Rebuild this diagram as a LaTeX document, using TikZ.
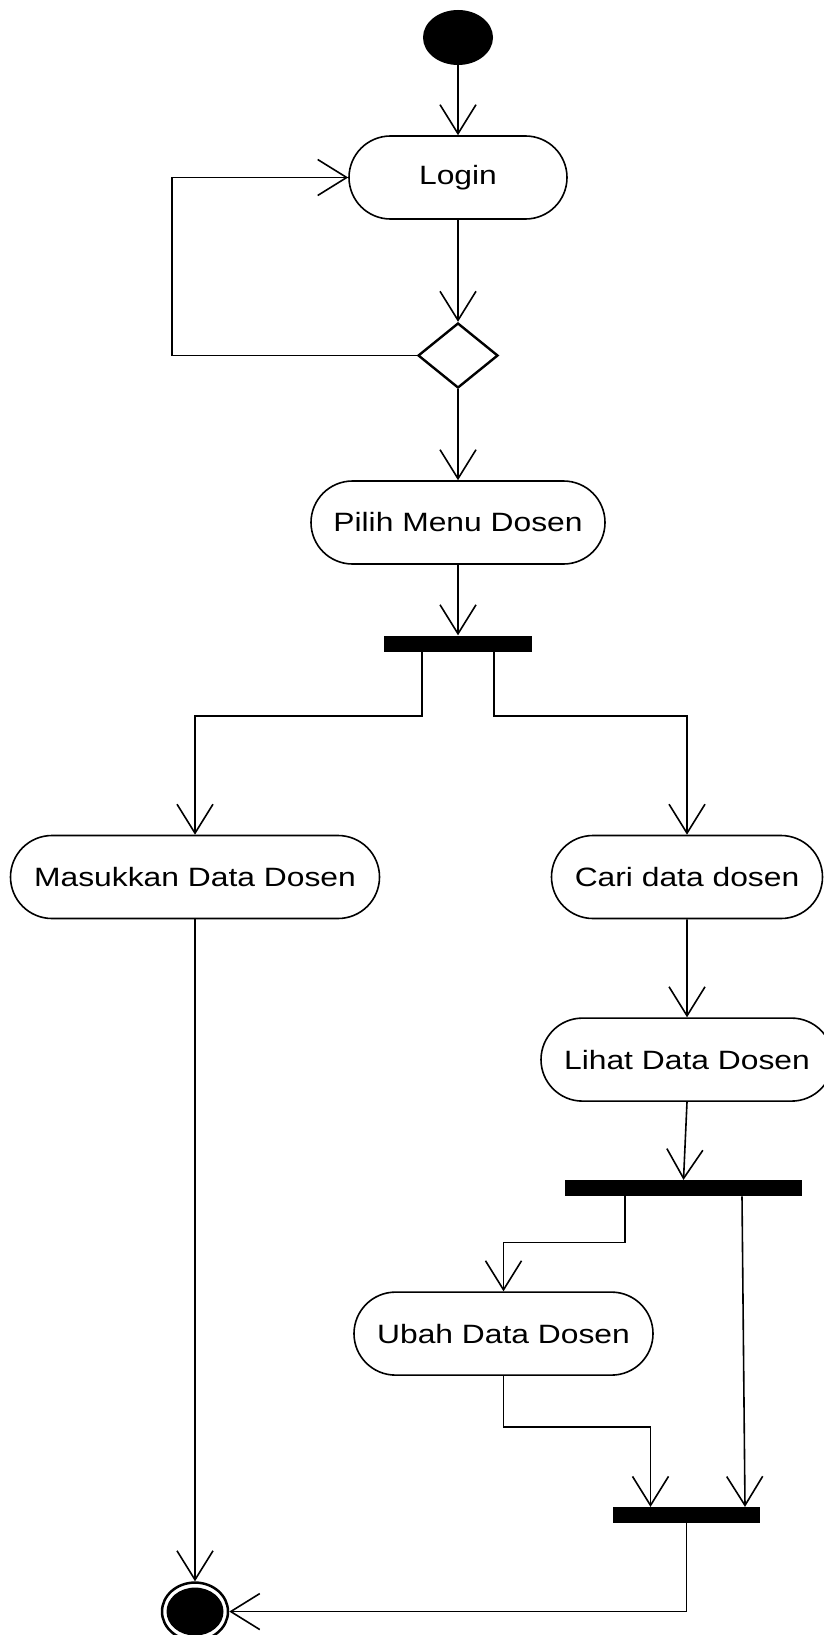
\documentclass[tikz,border=0pt]{standalone}
\usepackage{fontspec}
\setmainfont{Liberation Sans}[FakeStretch=1.2]
\usetikzlibrary{shapes.geometric, shapes.misc, arrows.meta, positioning}

\begin{document}
\begin{tikzpicture}[
    x=1pt, y=-1pt,
    startnode/.style={ellipse, fill=black, minimum width=70pt, minimum height=55pt, inner sep=0pt},
    activity/.style={rounded rectangle, draw=black, line width=1.6pt, fill=white, minimum height=83pt, inner sep=0pt, font=\fontsize{26.5}{30}\selectfont},
    decision/.style={diamond, draw=black, line width=2.4pt, fill=white, minimum width=80pt, minimum height=65pt, inner sep=0pt},
    syncbar/.style={rectangle, fill=black, minimum height=16pt, inner sep=0pt},
    endnode/.style={ellipse, draw=black, line width=2.5pt, fill=white, minimum width=66pt, minimum height=58pt, inner sep=0pt,
        path picture={\fill[black] (path picture bounding box.center) ellipse (28.5pt and 24pt);}},
    flow/.style={draw=black, line width=1.6pt, -{Straight Barb[length=29pt, width=36pt, line width=1.6pt]}}
]
    \useasboundingbox (0,0) rectangle (824,1635);

    % --- Start and login loop ---
    \node [startnode] (start) at (458,37.5) {};
    \node [activity, minimum width=218pt, below=70pt of start] (login) {Login};
    \node [decision, below=102pt of login] (check) {};
    \node [activity, minimum width=294pt, below=91pt of check] (menu) {Pilih Menu Dosen};

    % --- First fork ---
    \node [syncbar, minimum width=148pt, below=70.5pt of menu] (fork1) {};
    \node [activity, minimum width=369pt, below=183pt of fork1, xshift=-263pt] (input) {Masukkan Data Dosen};
    \node [activity, minimum width=271pt, below=183pt of fork1, xshift=229pt] (search) {Cari data dosen};
    \node [activity, minimum width=292pt, below=98pt of search] (view) {Lihat Data Dosen};

    % --- Second fork and join ---
    \node [syncbar, minimum width=237pt, below=78pt of view, xshift=-3.5pt] (fork2) {};
    \node [activity, minimum width=299pt, below=95pt of fork2, xshift=-180pt] (edit) {Ubah Data Dosen};
    \node [syncbar, minimum width=147pt, below=131pt of edit, xshift=183pt] (join) {};

    % End
    \node [endnode, below=662pt of input] (finish) {};

    % --- Connections ---
    \path [flow] (start) -- (login);
    \path [flow] (login) -- (check);
    \path [flow] (check.west) -- ++(-245pt,0pt) |- (login.west);
    \path [flow] (check) -- (menu);
    \path [flow] (menu) -- (fork1);

    % fork branches
    \path [flow] ([xshift=-36pt]fork1.south) -- ++(0pt,-64pt) -| (input.north);
    \path [flow] ([xshift=36pt]fork1.south) -- ++(0pt,-64pt) -| (search.north);
    \path [flow] (search) -- (view);
    \path [flow] (view.south) -- (fork2.north);
    \path [flow] ([xshift=-58.5pt]fork2.south) -- ++(0pt,-46pt) -| (edit.north);
    \path [flow] ([xshift=58.5pt]fork2.south) -- ([xshift=58.5pt]join.north);
    \path [flow] (edit.south) -- ++(0pt,-51pt) -| ([xshift=-36pt]join.north);

    % to the end
    \path [flow] (input.south) -- (finish.north);
    \path [flow] (join.south) |- (finish.east);

\end{tikzpicture}
\end{document}
